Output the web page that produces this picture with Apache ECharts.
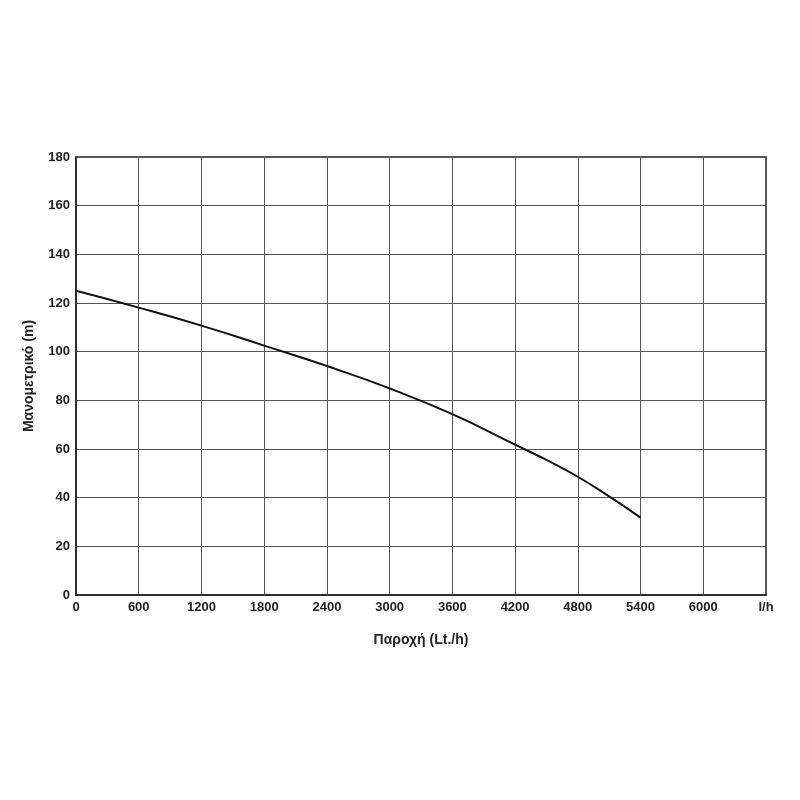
<!DOCTYPE html>
<html>
<head>
<meta charset="utf-8">
<script src="https://cdn.jsdelivr.net/npm/echarts@6/dist/echarts.min.js"></script>
<style>
html,body{margin:0;padding:0;background:#fff;}
#chart{width:800px;height:800px;}
</style>
</head>
<body>
<div id="chart"></div>
<script>
// flow (l/h) and head (m)
var flow = [0, 600, 1200, 1800, 2400, 3000, 3600, 4200, 4500, 4800, 5100, 5400];
var head = [125, 118.1, 110.7, 102.5, 94.1, 84.9, 74.3, 61.8, 55.5, 48.6, 40.5, 31.8];
var xTitle = 'Παροχή (Lt./h)';
var yTitle = 'Μανομετρικό (m)';
var xUnit = 'l/h';

var pts = flow.map(function (f, i) { return [f, head[i]]; });

var myChart = echarts.init(document.getElementById('chart'));
var txt = { color: '#222', fontWeight: 'bold', fontFamily: 'Liberation Sans, Arial, sans-serif' };

myChart.setOption({
    animation: false,
    grid: { left: 76, right: 34, top: 157, bottom: 205, show: true, borderColor: '#222', borderWidth: 1.5 },
    xAxis: {
        type: 'value', min: 0, max: 6600, interval: 600,
        name: xTitle, nameLocation: 'middle', nameGap: 38,
        nameTextStyle: Object.assign({ fontSize: 14 }, txt),
        axisLine: { lineStyle: { color: '#222', width: 1.5 } },
        axisTick: { show: false },
        axisLabel: Object.assign({
            fontSize: 13, margin: 6,
            formatter: function (v) { return v === 6600 ? xUnit : v; }
        }, txt),
        splitLine: { lineStyle: { color: '#555', width: 1 } }
    },
    yAxis: {
        type: 'value', min: 0, max: 180, interval: 20,
        name: yTitle, nameLocation: 'middle', nameGap: 40, nameRotate: 90,
        nameTextStyle: Object.assign({ fontSize: 14 }, txt),
        axisLine: { lineStyle: { color: '#222', width: 1.5 } },
        axisTick: { show: false },
        axisLabel: Object.assign({ fontSize: 13, margin: 6 }, txt),
        splitLine: { lineStyle: { color: '#555', width: 1 } }
    },
    series: [{
        type: 'line', data: pts, smooth: 0.5, showSymbol: false,
        lineStyle: { color: '#111', width: 2 }
    }]
});
</script>
</body>
</html>
